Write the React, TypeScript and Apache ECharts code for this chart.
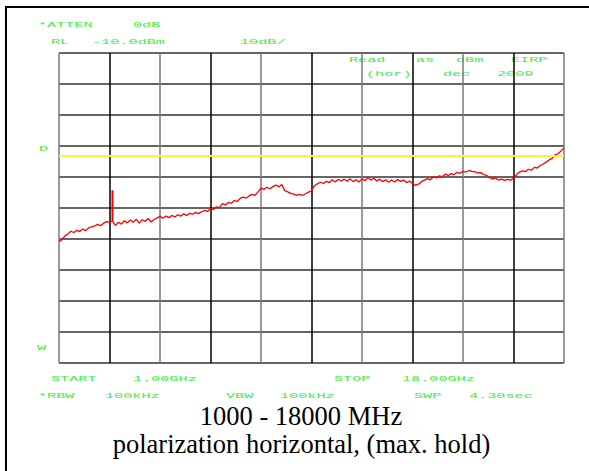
import React, { useEffect, useRef } from "react";
import * as echarts from "echarts";

// Sweep settings (GHz) and reference levels (dBm)
const startGHz = 1.0;
const stopGHz = 18.0;
const sweepStepGHz = 0.1;
const refLevelDbm = -10;
const bottomDbm = -110;
const dbPerDiv = 10;
const displayLineDbm = -43;

// Max-hold trace, one value per sweep step (1.0 .. 18.0 GHz)
const traceDbm = [
  -70.8, -70.2, -69.0, -68.4, -67.5, -67.9, -67.2, -67.6, -66.8, -67.3,
  -66.4, -66.1, -65.8, -65.3, -65.7, -64.9, -64.4, -64.6, -64.2, -65.6,
  -64.6, -65.2, -64.1, -64.8, -63.9, -64.6, -63.6, -64.9, -63.8, -64.3,
  -63.4, -64.5, -63.7, -63.2, -62.7, -63.3, -62.6, -63.1, -62.4, -62.9,
  -62.2, -62.6, -61.9, -62.4, -61.7, -62.0, -61.4, -61.8, -61.2, -60.8,
  -61.1, -60.2, -60.5, -59.6, -59.9, -58.6, -59.0, -58.2, -58.5, -57.6,
  -57.9, -56.9, -56.5, -56.8, -56.1, -55.6, -55.9, -54.8, -53.6, -54.0,
  -53.3, -53.8, -53.1, -52.6, -53.2, -52.4, -54.4, -54.8, -55.3, -55.5,
  -55.9, -55.6, -55.9, -55.4, -54.9, -54.5, -52.8, -52.2, -51.7, -52.1,
  -51.4, -51.8, -50.9, -51.6, -50.8, -51.3, -50.7, -51.4, -50.6, -51.5,
  -50.9, -51.6, -50.6, -51.2, -50.2, -51.0, -50.4, -51.3, -50.7, -51.5,
  -50.9, -51.7, -51.0, -51.6, -50.8, -51.4, -51.0, -51.8, -51.3, -52.1,
  -52.7, -52.3, -51.5, -51.0, -50.5, -50.9, -49.9, -50.3, -49.6, -49.9,
  -49.1, -49.5, -48.9, -49.2, -48.5, -48.8, -48.2, -48.4, -47.9, -48.2,
  -48.3, -48.7, -48.6, -49.2, -49.5, -50.2, -50.6, -50.3, -51.0, -50.7,
  -51.1, -50.8, -51.0, -50.4, -49.3, -48.4, -48.0, -48.3, -47.5, -47.8,
  -46.9, -47.1, -46.3, -45.8, -45.2, -44.5, -44.0, -42.8, -42.5, -41.6,
  -40.6,
];

// Narrow spurious spike
const spikeGHz = 2.8;
const spikeDbm = [-64.3, -54.3];

const GREEN = "#3cee3c";

function label(text: string, x: number, y: number) {
  return {
    type: "text",
    x,
    y,
    scaleX: 1.9,
    silent: true,
    style: {
      text,
      fill: GREEN,
      font: '8px "Liberation Mono"',
      textAlign: "left",
      textVerticalAlign: "middle",
    },
  };
}

export default function App() {
  const ref = useRef<HTMLDivElement>(null);

  useEffect(() => {
    if (!ref.current) return;
    const chart = echarts.init(ref.current, null, { renderer: "svg" });
    const divs = (refLevelDbm - bottomDbm) / dbPerDiv;

    const option = {
      animation: false,
      backgroundColor: "#ffffff",
      grid: { left: 59, top: 53, right: 25, bottom: 108, containLabel: false },
      xAxis: [
        { type: "value", min: startGHz, max: stopGHz, show: false },
        {
          type: "value",
          min: 0,
          max: divs,
          interval: 1,
          axisLine: { show: false },
          axisTick: { show: false },
          axisLabel: { show: false },
          splitLine: {
            show: true,
            lineStyle: { color: ["#7a7a7a", "#000000"], width: 1.5 },
          },
        },
      ],
      yAxis: {
        type: "value",
        min: bottomDbm,
        max: refLevelDbm,
        interval: dbPerDiv,
        axisLine: { show: false },
        axisTick: { show: false },
        axisLabel: { show: false },
        splitLine: { show: true, lineStyle: { color: "#333333", width: 1.5 } },
      },
      series: [
        {
          type: "line",
          xAxisIndex: 0,
          yAxisIndex: 0,
          data: traceDbm.map((v, i) => [startGHz + i * sweepStepGHz, v]),
          showSymbol: false,
          symbol: "none",
          lineStyle: { color: "#ff0000", width: 1.3 },
          silent: true,
          markLine: {
            silent: true,
            symbol: ["none", "none"],
            label: { show: false },
            lineStyle: { color: "#f4f43a", width: 2, type: "solid" },
            data: [{ yAxis: displayLineDbm }],
          },
          z: 3,
        },
        {
          type: "line",
          xAxisIndex: 0,
          yAxisIndex: 0,
          data: spikeDbm.map((v) => [spikeGHz, v]),
          showSymbol: false,
          symbol: "none",
          lineStyle: { color: "#ff0000", width: 2 },
          silent: true,
          z: 3,
        },
      ],
      graphic: [
        { type: "rect", silent: true, shape: { x: 5, y: 6, width: 584, height: 2 }, style: { fill: "#000" } },
        { type: "rect", silent: true, shape: { x: 5, y: 6, width: 2, height: 465 }, style: { fill: "#000" } },
        label("*ATTEN", 38, 25.5),
        label("0dB", 133, 25.5),
        label("RL", 51, 42),
        label("-10.0dBm", 92, 42),
        label("10dB/", 240, 42),
        label("Read", 349, 60),
        label("as", 416, 60),
        label("dBm", 456, 60),
        label("EIRP", 511, 60),
        label("(hor)", 366, 74.5),
        label("dec", 443, 74.5),
        label("2009", 497, 74.5),
        label("D", 39, 149.5),
        label("W", 37, 348),
        label("START", 51, 379),
        label("1.00GHz", 133, 379),
        label("STOP", 334, 379),
        label("18.00GHz", 402, 379),
        label("*RBW", 38, 396),
        label("100kHz", 105, 396),
        label("VBW", 226, 396),
        label("100kHz", 280, 396),
        label("SWP", 414, 396),
        label("4.30sec", 469, 396),
        {
          type: "text",
          x: 301,
          y: 429.5,
          silent: true,
          style: {
            text: "1000 - 18000 MHz",
            fill: "#000",
            font: '26.5px "Liberation Serif"',
            textAlign: "center",
            textVerticalAlign: "bottom",
          },
        },
        {
          type: "text",
          x: 301.5,
          y: 457.5,
          silent: true,
          style: {
            text: "polarization horizontal, (max. hold)",
            fill: "#000",
            font: '26.5px "Liberation Serif"',
            textAlign: "center",
            textVerticalAlign: "bottom",
          },
        },
      ],
    };

    chart.setOption(option as any);
    return () => chart.dispose();
  }, []);

  return (
    <div
      ref={ref}
      style={{ position: "fixed", left: 0, top: 0, width: 589, height: 471 }}
    />
  );
}
